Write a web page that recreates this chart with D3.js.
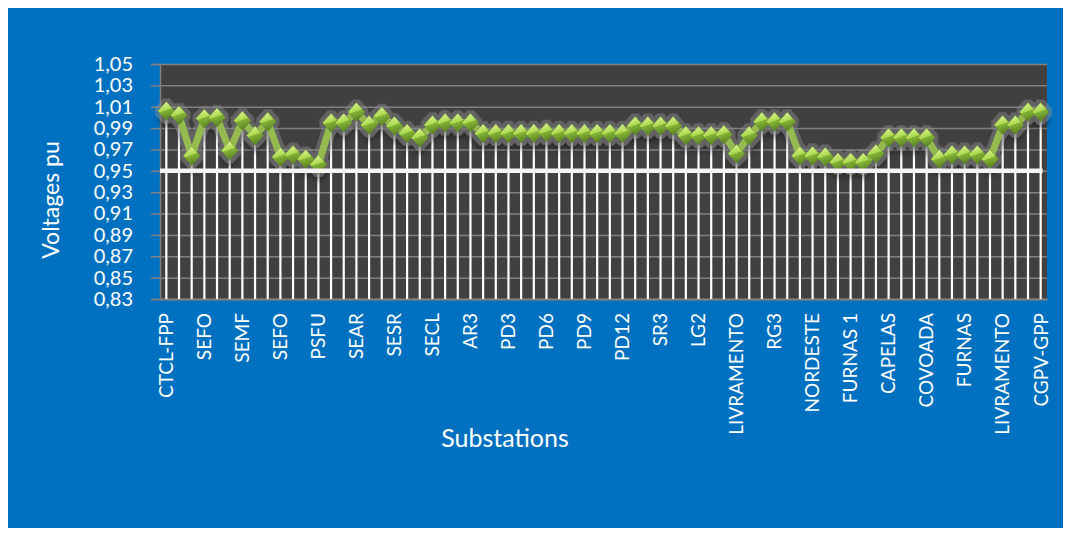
<!DOCTYPE html>
<html>
<head>
<meta charset="utf-8">
<script src="https://cdn.jsdelivr.net/npm/d3@7"></script>
<style>
  body { margin: 0; background: #fff; }
  text { font-family: Lato, "Open Sans", sans-serif; fill: #fff; }
</style>
</head>
<body>
<svg id="chart" width="1070" height="535"></svg>
<script>
// substations shown on the axis (every third point is labelled)
const labels = ["CTCL-FPP", "SEFO", "SEMF", "SEFO", "PSFU", "SEAR", "SESR", "SECL",
  "AR3", "PD3", "PD6", "PD9", "PD12", "SR3", "LG2", "LIVRAMENTO", "RG3", "NORDESTE",
  "FURNAS 1", "CAPELAS", "COVOADA", "FURNAS", "LIVRAMENTO", "CGPV-GPP"]

// voltage (pu) at each of the 70 buses
const volts = [
  1.006, 1.002, 0.964, 0.999, 1.000, 0.969, 0.997, 0.983, 0.996, 0.963,
  0.965, 0.961, 0.956, 0.995, 0.995, 1.005, 0.993, 1.001, 0.992, 0.985,
  0.981, 0.993, 0.995, 0.995, 0.995, 0.985, 0.985, 0.985, 0.985, 0.985,
  0.986, 0.985, 0.985, 0.985, 0.985, 0.985, 0.985, 0.992, 0.992, 0.992,
  0.992, 0.983, 0.983, 0.983, 0.984, 0.966, 0.983, 0.996, 0.996, 0.996,
  0.964, 0.964, 0.963, 0.958, 0.958, 0.958, 0.966, 0.981, 0.981, 0.981,
  0.981, 0.961, 0.965, 0.965, 0.965, 0.961, 0.993, 0.993, 1.005, 1.005]

const yTicks = [0.83, 0.85, 0.87, 0.89, 0.91, 0.93, 0.95, 0.97, 0.99, 1.01, 1.03, 1.05]
const limit = 0.95

const svg = d3.select("#chart")
const defs = svg.append("defs")

let grad = defs.append("linearGradient").attr("id", "dia")
    .attr("x1", 0.2).attr("y1", 0).attr("x2", 0.5).attr("y2", 1)
grad.append("stop").attr("offset", "0%").attr("stop-color", "#e2f89e")
grad.append("stop").attr("offset", "48%").attr("stop-color", "#acd94e")
grad.append("stop").attr("offset", "52%").attr("stop-color", "#84b236")
grad.append("stop").attr("offset", "100%").attr("stop-color", "#577f20")

// gray halo + soft drop shadow, like the office 3d effect
let fx = defs.append("filter").attr("id", "fx")
    .attr("x", "-5%").attr("y", "-40%").attr("width", "110%").attr("height", "190%")
fx.append("feMorphology").attr("in", "SourceAlpha").attr("operator", "dilate")
    .attr("radius", 2.5).attr("result", "dil")
fx.append("feFlood").attr("flood-color", "#8c8c8c").attr("flood-opacity", 0.45)
fx.append("feComposite").attr("in2", "dil").attr("operator", "in").attr("result", "halo")
fx.append("feGaussianBlur").attr("in", "SourceAlpha").attr("stdDeviation", 3)
fx.append("feOffset").attr("dy", 8).attr("result", "blur")
fx.append("feFlood").attr("flood-color", "#000").attr("flood-opacity", 0.45)
fx.append("feComposite").attr("in2", "blur").attr("operator", "in").attr("result", "shadow")
let merge = fx.append("feMerge")
merge.append("feMergeNode").attr("in", "shadow")
merge.append("feMergeNode").attr("in", "halo")
merge.append("feMergeNode").attr("in", "SourceGraphic")

svg.append("rect")
    .attr("x", 8).attr("y", 8).attr("width", 1055).attr("height", 520)
    .attr("fill", "#0070c0")

const pLeft = 160, pRight = 1047, pTop = 64, pBottom = 299

const x = d3.scaleBand().domain(d3.range(volts.length)).range([pLeft, pRight])
const y = d3.scaleLinear().domain([0.83, 1.05]).range([pBottom, pTop])
const cx = i => x(i) + x.bandwidth() / 2

svg.append("rect")
    .attr("x", pLeft).attr("y", pTop).attr("width", pRight - pLeft).attr("height", pBottom - pTop)
    .attr("fill", "#404040")

// gridlines
svg.append("g")
    .attr("transform", `translate(${pLeft},0)`)
    .call(d3.axisLeft(y).tickValues(yTicks).tickSize(-(pRight - pLeft)).tickFormat(""))
    .call(g => g.select(".domain").remove())
    .call(g => g.selectAll("line").attr("stroke", "#808080").attr("stroke-width", 1.5))

// y axis
svg.append("g")
    .attr("transform", `translate(${pLeft},0)`)
    .call(d3.axisLeft(y).tickValues(yTicks).tickSize(9).tickPadding(18)
        .tickFormat(d => d3.format(".2f")(d).replace(".", ",")))
    .call(g => g.select(".domain").attr("stroke", "#808080").attr("stroke-width", 1.5))
    .call(g => g.selectAll("line").attr("stroke", "#808080").attr("stroke-width", 1.5))
    .call(g => g.selectAll("text").attr("font-size", 20).attr("font-family", "Lato").attr("fill", "#fff"))

// x axis
svg.append("g")
    .attr("transform", `translate(0,${pBottom})`)
    .call(d3.axisBottom(x).tickValues(d3.range(0, volts.length, 3)).tickSize(0)
        .tickFormat(i => labels[i / 3]))
    .call(g => g.select(".domain").attr("stroke", "#808080").attr("stroke-width", 2))
    .call(g => g.selectAll("text")
        .attr("font-size", 19).attr("font-family", "Lato").attr("fill", "#fff")
        .attr("text-anchor", "end")
        .attr("transform", "rotate(-90)")
        .attr("x", -14).attr("y", 0).attr("dy", "0.36em"))

// drop lines
svg.append("g").selectAll("line")
    .data(volts)
    .join("line")
    .attr("x1", (d, i) => cx(i)).attr("x2", (d, i) => cx(i))
    .attr("y1", d => y(d)).attr("y2", pBottom)
    .attr("stroke", "#fff").attr("stroke-width", 2.2)

// series
let series = svg.append("g").attr("filter", "url(#fx)")

series.append("path")
    .datum(volts)
    .attr("fill", "none")
    .attr("stroke", "#95bb50")
    .attr("stroke-width", 7)
    .attr("d", d3.line().x((d, i) => cx(i)).y(d => y(d)))

const hw = 8.6, hh = 9.6
series.selectAll(".mk")
    .data(volts)
    .join("path")
    .attr("class", "mk")
    .attr("transform", (d, i) => `translate(${cx(i)},${y(d)})`)
    .attr("d", `M0,${-hh}L${hw},0L0,${hh}L${-hw},0Z`)
    .attr("fill", "url(#dia)")
    .attr("stroke", "#5d7a2a")
    .attr("stroke-opacity", 0.6)
    .attr("stroke-width", 0.8)

// 0,95 limit line
svg.append("line")
    .attr("x1", pLeft).attr("x2", cx(volts.length - 1) + 2)
    .attr("y1", y(limit)).attr("y2", y(limit))
    .attr("stroke", "#f4f4f4").attr("stroke-width", 4.5)

// titles
svg.append("text")
    .attr("transform", "translate(59,200) rotate(-90)")
    .attr("text-anchor", "middle")
    .attr("font-size", 23)
    .text("Voltages pu")

svg.append("text")
    .attr("x", 505).attr("y", 447)
    .attr("text-anchor", "middle")
    .attr("font-size", 25)
    .text("Substations")
</script>
</body>
</html>
